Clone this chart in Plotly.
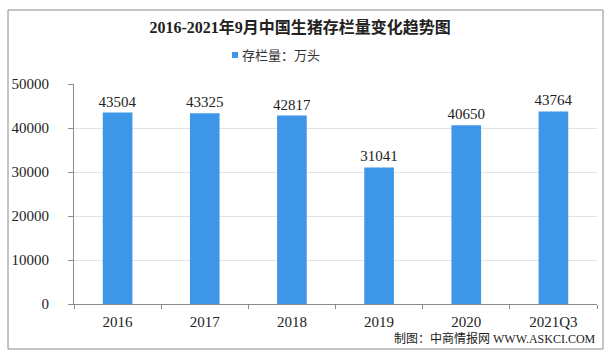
import plotly.graph_objects as go

categories = ["2016", "2017", "2018", "2019", "2020", "2021Q3"]
values = [43504, 43325, 42817, 31041, 40650, 43764]
y_ticks = [0, 10000, 20000, 30000, 40000, 50000]
y_tick_labels = ["0", "10000", "20000", "30000", "40000", "50000"]
series_name = "存栏量：万头"
title_text = "2016-2021年9月中国生猪存栏量变化趋势图"
source_text = "制图：中商情报网 WWW.ASKCI.COM"

FONT = "Liberation Serif, Noto Sans CJK SC, serif"
BAR = "#3d96e8"

fig = go.Figure()
fig.add_trace(go.Bar(
    x=categories, y=values, name=series_name,
    marker=dict(color=BAR, line=dict(width=0)),
    text=[str(v) for v in values], textposition="outside",
    constraintext="none",
    textfont=dict(family=FONT, size=15, color="#222222"),
    cliponaxis=False, showlegend=False,
))

W, H = 610, 354
L, R, T, B = 74, 13, 84, 50
pw, ph = W - L - R, H - T - B

def px_x(x):
    return (x - L) / pw

def px_y(y):
    return (H - B - y) / ph

fig.update_layout(
    width=W, height=H,
    margin=dict(l=L, r=R, t=T, b=B, pad=0),
    paper_bgcolor="white", plot_bgcolor="white",
    bargap=0.66,
    title=dict(text="<b>" + title_text + "</b>", x=0.492, xanchor="center",
               y=1 - 27 / H, yanchor="middle",
               font=dict(family=FONT, size=16, color="#222222")),
    xaxis=dict(showline=True, linecolor="#8c8c8c", linewidth=1,
               ticks="outside", ticklen=4, tickcolor="#8c8c8c",
               tickson="boundaries", showgrid=False,
               tickfont=dict(family=FONT, size=15, color="#222222"),
               ticklabelstandoff=4),
    yaxis=dict(range=[0, 50000], tickvals=y_ticks, ticktext=y_tick_labels,
               showline=True, linecolor="#8c8c8c", linewidth=1,
               ticks="outside", ticklen=5, tickcolor="#8c8c8c",
               showgrid=True, gridcolor="#e3e3e3", gridwidth=1,
               zeroline=False,
               tickfont=dict(family=FONT, size=15, color="#222222"),
               ticklabelstandoff=16),
    shapes=[
        dict(type="rect", xref="paper", yref="paper",
             x0=px_x(8), x1=px_x(603), y0=px_y(349), y1=px_y(10),
             line=dict(color="#8a8a8a", width=1), layer="below"),
        dict(type="rect", xref="paper", yref="paper",
             x0=px_x(232), x1=px_x(238), y0=px_y(58), y1=px_y(52),
             fillcolor=BAR, line=dict(width=0)),
    ],
    annotations=[
        dict(text=series_name, xref="paper", yref="paper",
             x=px_x(240), y=px_y(55), xanchor="left", yanchor="middle",
             showarrow=False,
             font=dict(family=FONT, size=13, color="#333333")),
        dict(text=source_text, xref="paper", yref="paper",
             x=px_x(598), y=px_y(338), xanchor="right", yanchor="middle",
             showarrow=False,
             font=dict(family=FONT, size=12, color="#222222")),
    ],
)

fig.write_html("out.html")
